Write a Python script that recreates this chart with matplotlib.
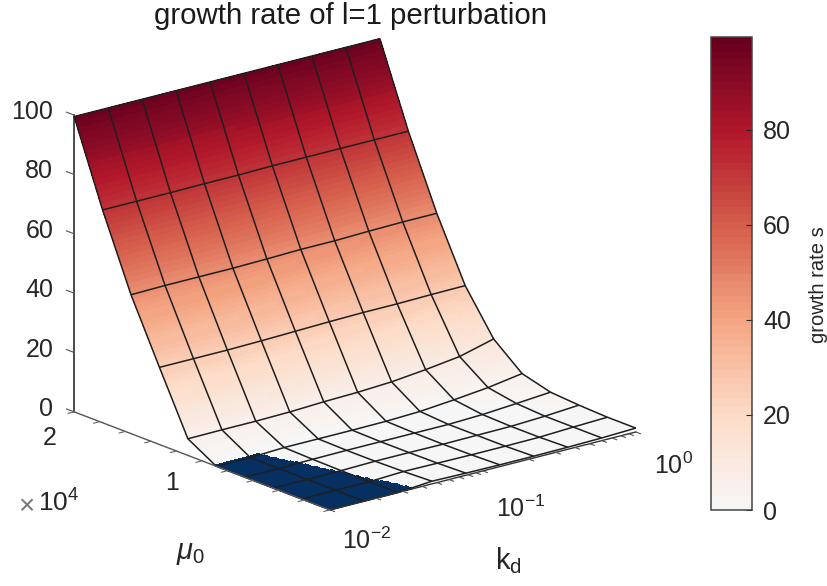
import numpy as np
import matplotlib
matplotlib.use('Agg')
import matplotlib.pyplot as plt
from matplotlib.cm import ScalarMappable
from matplotlib.colors import ListedColormap, Normalize, to_rgba
from mpl_toolkits.mplot3d import proj3d

plt.rcParams['font.family'] = 'Liberation Sans'
plt.rcParams['mathtext.fontset'] = 'custom'
plt.rcParams['mathtext.rm'] = 'Liberation Sans'
plt.rcParams['mathtext.it'] = 'Liberation Sans:italic'
plt.rcParams['mathtext.default'] = 'regular'

kd = [0.01, 0.0167, 0.0278, 0.0464, 0.0774, 0.129, 0.215, 0.359, 0.599, 1.0]
mu0 = [0, 2222, 4444, 6667, 8889, 11111, 13333, 15556, 17778, 20000]
# growth rate, one row per mu0, one column per kd (negative = decaying)
s = [
    [-3.0, -2.0, -0.6, 0.9, 0.7, 0.6, 0.6, 0.7, 0.9, 1.3],
    [-2.5, -1.5, -0.05, 0.5, 0.4, 0.3, 0.3, 0.4, 0.9, 1.3],
    [-2.0, -0.3, 0.05, 0.3, 0.3, 0.2, 0.3, 0.4, 0.9, 1.7],
    [-1.0, -0.3, 0.2, 0.3, 0.3, 0.3, 0.3, 0.7, 1.5, 2.4],
    [-0.2, -0.2, 0.5, 0.5, 0.5, 0.6, 1.0, 2.0, 3.2, 5.0],
    [5.6, 5.7, 5.7, 5.9, 6.4, 6.7, 7.3, 8.5, 10.0, 13.0],
    [26.0, 26.0, 26.0, 26.2, 26.5, 26.8, 27.0, 27.0, 27.2, 27.3],
    [46.8, 47.0, 47.0, 47.0, 47.2, 47.5, 47.5, 47.8, 48.0, 48.0],
    [71.7, 71.7, 71.7, 71.8, 71.8, 72.0, 72.0, 72.0, 72.0, 72.0],
    [99.5, 99.5, 99.5, 99.5, 99.5, 99.5, 99.5, 99.5, 99.5, 99.5],
]
z_ticks = [0, 20, 40, 60, 80, 100]
mu_ticks = [0, 2000, 4000, 6000, 8000, 10000, 12000, 14000, 16000, 18000, 20000]
kd_ticks = [0.01, 0.02, 0.03, 0.04, 0.05, 0.06, 0.07, 0.08, 0.09,
            0.1, 0.2, 0.3, 0.4, 0.5, 0.6, 0.7, 0.8, 0.9, 1.0]
cbar_ticks = [0, 20, 40, 60, 80]

TEXT = '#262626'
FS = 18
W, H = 828, 586

levels = plt.get_cmap('RdBu_r')(np.linspace(0.5, 1, 64))
cmap = ListedColormap(levels)
norm = Normalize(0, 99.5)
blue = to_rgba('#053061')

fig = plt.figure(figsize=(W / 100, H / 100), dpi=100)
ax = fig.add_axes([33 / W, -9.5 / H, 627 / W, 627 / H], projection='3d')
ax.set_proj_type('ortho')
ax.view_init(elev=18.2, azim=-129.2)
ax.set_box_aspect((1.263, 1.296, 1.0))
ax.set_xlim(-2, 0)
ax.set_ylim(0, 20000)
ax.set_zlim(0, 100)
ax.set_axis_off()
ax.computed_zorder = False

log_kd = np.log10(kd)
mu = np.array(mu0, dtype=float)
S = np.array(s)

# finer grid only for the smooth shading inside each mesh cell
fi = np.linspace(0, 9, 145)
S_fine = np.array([np.interp(fi, np.arange(10), row) for row in S])
S_fine = np.array([np.interp(fi, np.arange(10), col) for col in S_fine.T]).T
XF, YF = np.meshgrid(np.interp(fi, np.arange(10), log_kd), np.interp(fi, np.arange(10), mu))
colors = cmap(norm(S_fine))
colors[S_fine < 0] = blue
ax.plot_surface(XF, YF, np.maximum(S_fine, 0), facecolors=colors, rstride=1, cstride=1,
                linewidth=0, antialiased=False, shade=False, zorder=1)

XG, YG = np.meshgrid(log_kd, mu)
ax.plot_wireframe(XG, YG, np.maximum(S, 0), rstride=1, cstride=1, color='#1f1f1f',
                  linewidth=1.1, zorder=2)

# axis lines and ticks
ax.plot([-2, -2], [20000, 20000], [0, 100], color='#1a1a1a', lw=1.1, zorder=3)
ax.plot([-2, -2], [0, 20000], [0, 0], color='#555555', lw=1.0, zorder=3)
ax.plot([-2, 0], [0, 0], [0, 0], color='#333333', lw=1.0, zorder=3)
for z in z_ticks:
    ax.plot([-2, -2], [20000, 20600], [z, z], color='#555555', lw=0.8, zorder=3)
for m in mu_ticks:
    ax.plot([-2, -2.04], [m, m], [0, 0], color='#666666', lw=0.8, zorder=3)
for k in kd_ticks:
    ax.plot([np.log10(k)] * 2, [0, -350], [0, 0], color='#555555', lw=0.8, zorder=3)


def label(x, y, z, txt, dx, dy, **kw):
    px, py, _ = proj3d.proj_transform(x, y, z, ax.get_proj())
    kw.setdefault('ha', 'center')
    ax.annotate(txt, xy=(px, py), xytext=(dx, dy), textcoords='offset pixels', va='center',
                color=TEXT, fontsize=FS, annotation_clip=False, **kw)


for z in z_ticks:
    label(-2, 20000, z, str(z), -21, 3, ha='right')
label(-2, 20000, 0, '2', -24, -26)
label(-2, 10000, 0, '1', -30, -22)
label(-2, 0, 0, r'$10^{-2}$', 37, -31)
label(-1, 0, 0, r'$10^{-1}$', 38, -38)
label(0, 0, 0, r'$10^{0}$', 38, -34)
fig.text(26 / W, 1 - 507 / H, '\u00d7', fontsize=20, color='#777777', ha='center', va='center')
fig.text(38 / W, 1 - 503 / H, r'$10^{4}$', fontsize=FS + 1, color=TEXT, va='center')
fig.text(191 / W, 1 - 553 / H, r'$\mathit{\mu}_0$', fontsize=21, color=TEXT, ha='center', va='center')
fig.text(508 / W, 1 - 561 / H, r'$k_d$', fontsize=FS + 3, color=TEXT, ha='center', va='center')
fig.text(351 / W, 1 - 16 / H, 'growth rate of l=1 perturbation', fontsize=21.2, color='#1a1a1a',
         ha='center', va='center')

cax = fig.add_axes([711 / W, 1 - 510 / H, 41 / W, 473 / H])
cb = fig.colorbar(ScalarMappable(norm=norm, cmap=cmap), cax=cax)
cb.set_ticks(cbar_ticks)
cb.ax.tick_params(direction='in', length=4, width=0.8, labelsize=FS, colors=TEXT, pad=8)
cb.outline.set_edgecolor('#444444')
cb.outline.set_linewidth(1.1)
cb.set_label('growth rate s', fontsize=14.5, color=TEXT, labelpad=13)
cb.ax.yaxis.label.set_y(0.476)

fig.savefig('out.png', dpi=100)
